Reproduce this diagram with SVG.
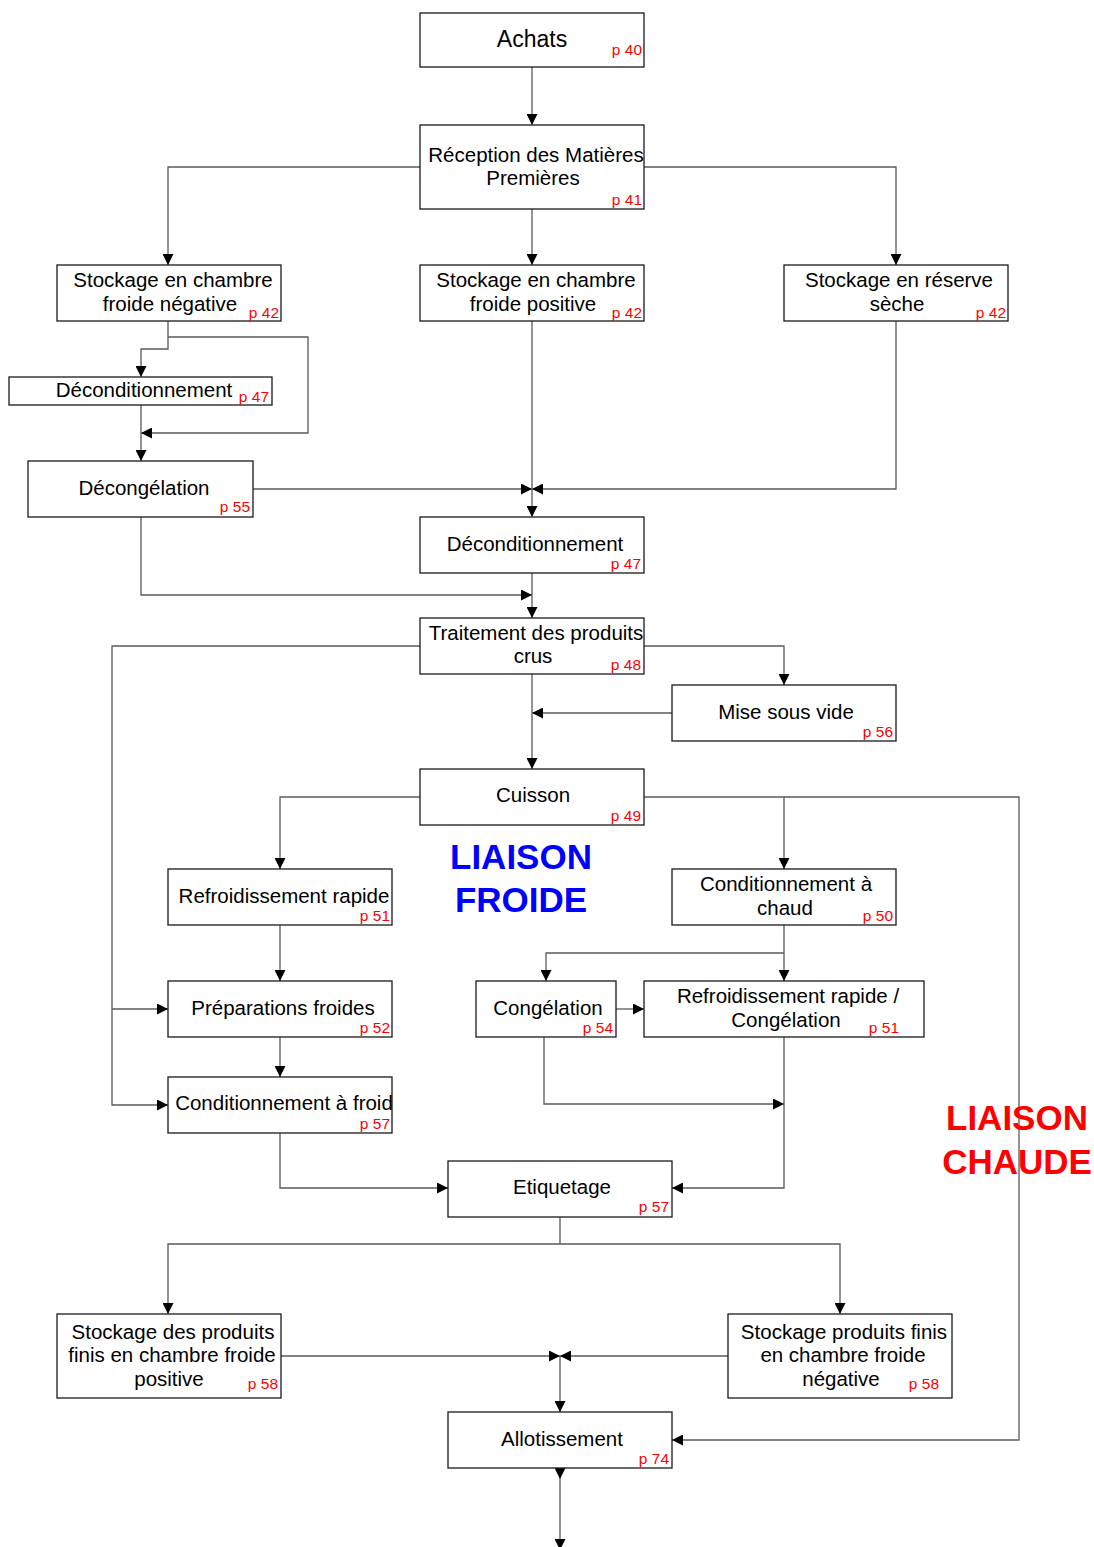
<svg xmlns="http://www.w3.org/2000/svg" width="1094" height="1547" viewBox="0 0 1094 1547">
  <style>
    .box { fill: #ffffff; stroke: #1a1a1a; stroke-width: 1.3; }
    .lbl { font-family: "Liberation Sans", Arial, sans-serif; font-size: 20.5px; fill: #000000; text-anchor: middle; }
    .pg { font-family: "Liberation Sans", Arial, sans-serif; font-size: 15.5px; fill: #ff0000; text-anchor: end; }
    .wire { fill: none; stroke: #5a5a5a; stroke-width: 1.3; }
    .tag { font-family: "Liberation Sans", Arial, sans-serif; font-size: 35px; font-weight: bold; text-anchor: middle; }
  </style>
  <defs>
    <marker id="head" markerUnits="userSpaceOnUse" markerWidth="11" markerHeight="11" refX="11" refY="5.5" orient="auto">
      <path d="M0,0 L11,5.5 L0,11 z" fill="#000000"/>
    </marker>
    <marker id="tail" markerUnits="userSpaceOnUse" markerWidth="11" markerHeight="11" refX="0" refY="5.5" orient="auto">
      <path d="M0,0 L11,5.5 L0,11 z" fill="#000000"/>
    </marker>
  </defs>
  <rect width="1094" height="1547" fill="#ffffff"/>

  <!-- connectors -->
  <g id="connectors">
    <path class="wire" d="M532,67 V125" marker-end="url(#head)"/>
    <path class="wire" d="M420,167 H168 V265" marker-end="url(#head)"/>
    <path class="wire" d="M532,209 V265" marker-end="url(#head)"/>
    <path class="wire" d="M644,167 H896 V265" marker-end="url(#head)"/>
    <path class="wire" d="M168,321 V349 H141 V377" marker-end="url(#head)"/>
    <path class="wire" d="M168,337 H308 V433 H141" marker-end="url(#head)"/>
    <path class="wire" d="M141,405 V461" marker-end="url(#head)"/>
    <path class="wire" d="M253,489 H532" marker-end="url(#head)"/>
    <path class="wire" d="M896,321 V489 H532" marker-end="url(#head)"/>
    <path class="wire" d="M532,321 V517" marker-end="url(#head)"/>
    <path class="wire" d="M141,517 V595 H532" marker-end="url(#head)"/>
    <path class="wire" d="M532,573 V618" marker-end="url(#head)"/>
    <path class="wire" d="M420,646 H112 V1105 H168" marker-end="url(#head)"/>
    <path class="wire" d="M112,1009 H168" marker-end="url(#head)"/>
    <path class="wire" d="M644,646 H784 V685" marker-end="url(#head)"/>
    <path class="wire" d="M672,713 H532" marker-end="url(#head)"/>
    <path class="wire" d="M532,674 V769" marker-end="url(#head)"/>
    <path class="wire" d="M420,797 H280 V869" marker-end="url(#head)"/>
    <path class="wire" d="M644,797 H784 V869" marker-end="url(#head)"/>
    <path class="wire" d="M784,797 H1019 V1440 H672" marker-end="url(#head)"/>
    <path class="wire" d="M280,925 V981" marker-end="url(#head)"/>
    <path class="wire" d="M280,1037 V1077" marker-end="url(#head)"/>
    <path class="wire" d="M784,925 V981" marker-end="url(#head)"/>
    <path class="wire" d="M784,953 H546 V981" marker-end="url(#head)"/>
    <path class="wire" d="M616,1009 H644" marker-end="url(#head)"/>
    <path class="wire" d="M544,1037 V1104 H784" marker-end="url(#head)"/>
    <path class="wire" d="M784,1037 V1188 H672" marker-end="url(#head)"/>
    <path class="wire" d="M280,1133 V1188 H448" marker-end="url(#head)"/>
    <path class="wire" d="M560,1217 V1244"/>
    <path class="wire" d="M560,1244 H168 V1314" marker-end="url(#head)"/>
    <path class="wire" d="M560,1244 H840 V1314" marker-end="url(#head)"/>
    <path class="wire" d="M281,1356 H560" marker-end="url(#head)"/>
    <path class="wire" d="M728,1356 H560" marker-end="url(#head)"/>
    <path class="wire" d="M560,1356 V1412" marker-end="url(#head)"/>
    <path class="wire" d="M560,1468 V1550" marker-start="url(#tail)" marker-end="url(#head)"/>
  </g>

  <!-- nodes -->
  <g id="achats">
    <rect class="box" x="420" y="13" width="224" height="54"/>
    <text class="lbl" x="532" y="47" style="font-size:23px">Achats</text>
    <text class="pg" x="642" y="55">p 40</text>
  </g>
  <g id="reception">
    <rect class="box" x="420" y="125" width="224" height="84"/>
    <text class="lbl" x="536" y="162">Réception des Matières</text>
    <text class="lbl" x="533" y="185">Premières</text>
    <text class="pg" x="642" y="205">p 41</text>
  </g>
  <g id="stock-negative">
    <rect class="box" x="57" y="265" width="224" height="56"/>
    <text class="lbl" x="173" y="287">Stockage en chambre</text>
    <text class="lbl" x="170" y="311">froide négative</text>
    <text class="pg" x="279" y="318">p 42</text>
  </g>
  <g id="stock-positive">
    <rect class="box" x="420" y="265" width="224" height="56"/>
    <text class="lbl" x="536" y="287">Stockage en chambre</text>
    <text class="lbl" x="533" y="311">froide positive</text>
    <text class="pg" x="642" y="318">p 42</text>
  </g>
  <g id="stock-seche">
    <rect class="box" x="784" y="265" width="224" height="56"/>
    <text class="lbl" x="899" y="287">Stockage en réserve</text>
    <text class="lbl" x="897" y="311">sèche</text>
    <text class="pg" x="1006" y="318">p 42</text>
  </g>
  <g id="deconditionnement-1">
    <rect class="box" x="9" y="377" width="263" height="28"/>
    <text class="lbl" x="144" y="397">Déconditionnement</text>
    <text class="pg" x="269" y="402">p 47</text>
  </g>
  <g id="decongelation">
    <rect class="box" x="28" y="461" width="225" height="56"/>
    <text class="lbl" x="144" y="495">Décongélation</text>
    <text class="pg" x="250" y="512">p 55</text>
  </g>
  <g id="deconditionnement-2">
    <rect class="box" x="420" y="517" width="224" height="56"/>
    <text class="lbl" x="535" y="551">Déconditionnement</text>
    <text class="pg" x="641" y="569">p 47</text>
  </g>
  <g id="traitement">
    <rect class="box" x="420" y="618" width="224" height="56"/>
    <text class="lbl" x="536" y="640">Traitement des produits</text>
    <text class="lbl" x="533" y="663">crus</text>
    <text class="pg" x="641" y="670">p 48</text>
  </g>
  <g id="mise-sous-vide">
    <rect class="box" x="672" y="685" width="224" height="56"/>
    <text class="lbl" x="786" y="719">Mise sous vide</text>
    <text class="pg" x="893" y="737">p 56</text>
  </g>
  <g id="cuisson">
    <rect class="box" x="420" y="769" width="224" height="56"/>
    <text class="lbl" x="533" y="802">Cuisson</text>
    <text class="pg" x="641" y="821">p 49</text>
  </g>
  <g id="refroidissement">
    <rect class="box" x="168" y="869" width="224" height="56"/>
    <text class="lbl" x="284" y="903">Refroidissement rapide</text>
    <text class="pg" x="390" y="921">p 51</text>
  </g>
  <g id="cond-chaud">
    <rect class="box" x="672" y="869" width="224" height="56"/>
    <text class="lbl" x="786" y="891">Conditionnement à</text>
    <text class="lbl" x="785" y="915">chaud</text>
    <text class="pg" x="893" y="921">p 50</text>
  </g>
  <g id="preparations">
    <rect class="box" x="168" y="981" width="224" height="56"/>
    <text class="lbl" x="283" y="1015">Préparations froides</text>
    <text class="pg" x="390" y="1033">p 52</text>
  </g>
  <g id="congelation">
    <rect class="box" x="476" y="981" width="140" height="56"/>
    <text class="lbl" x="548" y="1015">Congélation</text>
    <text class="pg" x="613" y="1033">p 54</text>
  </g>
  <g id="refroid-congelation">
    <rect class="box" x="644" y="981" width="280" height="56"/>
    <text class="lbl" x="788" y="1003">Refroidissement rapide /</text>
    <text class="lbl" x="786" y="1027">Congélation</text>
    <text class="pg" x="899" y="1033">p 51</text>
  </g>
  <g id="cond-froid">
    <rect class="box" x="168" y="1077" width="224" height="56"/>
    <text class="lbl" x="284" y="1110">Conditionnement à froid</text>
    <text class="pg" x="390" y="1129">p 57</text>
  </g>
  <g id="etiquetage">
    <rect class="box" x="448" y="1161" width="224" height="56"/>
    <text class="lbl" x="562" y="1194">Etiquetage</text>
    <text class="pg" x="669" y="1212">p 57</text>
  </g>
  <g id="stock-finis-positive">
    <rect class="box" x="57" y="1314" width="224" height="84"/>
    <text class="lbl" x="173" y="1339">Stockage des produits</text>
    <text class="lbl" x="172" y="1362">finis en chambre froide</text>
    <text class="lbl" x="169" y="1386">positive</text>
    <text class="pg" x="278" y="1389">p 58</text>
  </g>
  <g id="stock-finis-negative">
    <rect class="box" x="728" y="1314" width="224" height="84"/>
    <text class="lbl" x="844" y="1339">Stockage produits finis</text>
    <text class="lbl" x="843" y="1362">en chambre froide</text>
    <text class="lbl" x="841" y="1386">négative</text>
    <text class="pg" x="939" y="1389">p 58</text>
  </g>
  <g id="allotissement">
    <rect class="box" x="448" y="1412" width="224" height="56"/>
    <text class="lbl" x="562" y="1446">Allotissement</text>
    <text class="pg" x="669" y="1464">p 74</text>
  </g>

  <!-- section headings -->
  <g id="liaison-froide">
    <text class="tag" x="521" y="869" fill="#0000ff">LIAISON</text>
    <text class="tag" x="521" y="912" fill="#0000ff">FROIDE</text>
  </g>
  <g id="liaison-chaude">
    <text class="tag" x="1017" y="1130" fill="#ff0000">LIAISON</text>
    <text class="tag" x="1017" y="1174" fill="#ff0000">CHAUDE</text>
  </g>
</svg>
